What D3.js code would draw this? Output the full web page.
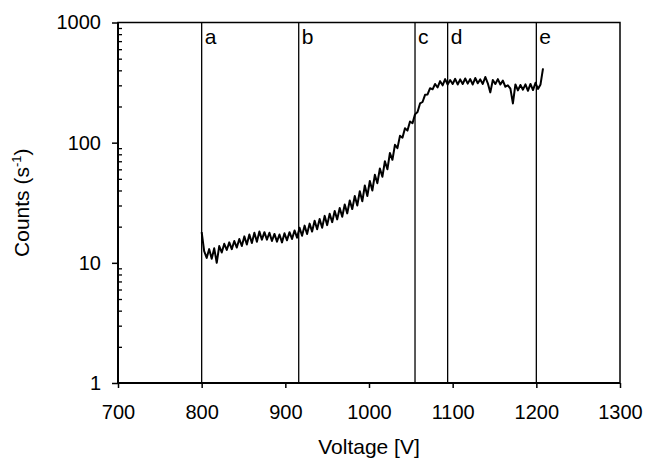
<!DOCTYPE html>
<html>
<head>
<meta charset="utf-8">
<script src="https://cdn.jsdelivr.net/npm/d3@7"></script>
<style>
  body { margin: 0; background: #fff; }
  text { font-family: "Liberation Sans", Arial, sans-serif; fill: #000; }
</style>
</head>
<body>
<div id="chart"></div>
<script>
"use strict";

// scan data (voltage in V, counts per second)
var voltages = [
     800,  803,  806,  809,  812,  815,  818,  821,  824,  827,
     830,  833,  836,  839,  842,  845,  848,  851,  854,  857,
     860,  863,  866,  869,  872,  875,  878,  881,  884,  887,
     890,  893,  896,  899,  902,  905,  908,  911,  914,  917,
     920,  923,  926,  929,  932,  935,  938,  941,  944,  947,
     950,  953,  956,  959,  962,  965,  968,  971,  974,  977,
     980,  983,  986,  989,  992,  995,  998, 1001, 1004, 1007,
    1010, 1013, 1016, 1019, 1022, 1025, 1028, 1031, 1034, 1037,
    1040, 1043, 1046, 1049, 1052, 1055, 1058, 1061, 1064, 1067,
    1070, 1073, 1076, 1079, 1082, 1085, 1088, 1091, 1094, 1097,
    1100, 1103, 1106, 1109, 1112, 1115, 1118, 1121, 1124, 1127,
    1130, 1133, 1136, 1139, 1142, 1145, 1148, 1151, 1154, 1157,
    1160, 1163, 1166, 1169, 1172, 1175, 1178, 1181, 1184, 1187,
    1190, 1193, 1196, 1199, 1202, 1205, 1208
];
var counts = [
    18, 12.5, 11, 13, 10.8, 13.2, 10.0, 13.8, 12.2, 14.4,
    12.8, 14.8, 13.0, 15.2, 13.4, 15.8, 13.8, 16.6, 14.2, 17.2,
    14.6, 17.8, 15.0, 18.2, 15.6, 18.0, 15.6, 17.8, 15.2, 17.4,
    15.0, 17.2, 14.8, 17.6, 15.4, 18.0, 15.8, 18.6, 16.2, 19.6,
    16.8, 20.4, 17.4, 21.2, 18.2, 22.4, 19.0, 23.2, 19.6, 24.6,
    20.6, 25.6, 21.8, 27.0, 23.0, 28.6, 24.2, 30.6, 25.8, 33.0,
    28.0, 36.0, 30.0, 39.5, 32.5, 44.0, 36.0, 48.0, 40.0, 54.0,
    46, 61, 52, 70, 60, 82, 72, 96, 90, 114,
    110, 132, 126, 150, 145, 172, 180, 212, 218, 250,
    252, 284, 278, 308, 288, 325, 300, 338, 305, 332,
    308, 340, 305, 336, 308, 342, 310, 338, 305, 345,
    312, 336, 308, 352, 312, 262, 332, 308, 338, 305,
    328, 292, 300, 282, 212, 305, 272, 302, 276, 306,
    270, 308, 274, 315, 280, 305, 415
];

// marker lines
var markerVolts = [800, 916, 1055, 1094, 1200];
var markerLabels = ["a", "b", "c", "d", "e"];

// ticks
var xTicks = [700, 800, 900, 1000, 1100, 1200, 1300];
var yTicks = [1, 10, 100, 1000];
var yMinorTicks = [2, 3, 4, 5, 6, 7, 8, 9, 20, 30, 40, 50, 60, 70, 80, 90,
                   200, 300, 400, 500, 600, 700, 800, 900];

var svg_dx = 646, svg_dy = 460;
var margin = {top: 22.5, right: 26, bottom: 77, left: 118};
var plot_right = svg_dx - margin.right,
    plot_bottom = svg_dy - margin.bottom;

var x = d3.scaleLinear().domain([700, 1300]).range([margin.left, plot_right]),
    y = d3.scaleLog().domain([1, 1000]).range([plot_bottom, margin.top]);

var svg = d3.select("#chart")
    .append("svg")
    .attr("width", svg_dx)
    .attr("height", svg_dy);

// frame (top / right)
svg.append("rect")
    .attr("x", margin.left)
    .attr("y", margin.top)
    .attr("width", plot_right - margin.left)
    .attr("height", plot_bottom - margin.top)
    .attr("fill", "none")
    .attr("stroke", "#000")
    .attr("stroke-width", 1.5);

// vertical marker lines
svg.append("g")
    .selectAll("line")
    .data(markerVolts)
    .enter()
    .append("line")
    .attr("x1", d => x(d))
    .attr("x2", d => x(d))
    .attr("y1", margin.top)
    .attr("y2", plot_bottom)
    .attr("stroke", "#000")
    .attr("stroke-width", 1.3);

svg.append("g")
    .selectAll("text")
    .data(markerVolts)
    .enter()
    .append("text")
    .attr("x", d => x(d) + 3)
    .attr("y", 44)
    .style("font-size", "21px")
    .text((d, i) => markerLabels[i]);

// curve
var line = d3.line()
    .x((d, i) => x(voltages[i]))
    .y(d => y(d));

svg.append("path")
    .datum(counts)
    .attr("d", line)
    .attr("fill", "none")
    .attr("stroke", "#000")
    .attr("stroke-width", 2)
    .attr("stroke-linejoin", "round");

// axes
var axis_x = d3.axisBottom(x)
    .tickValues(xTicks)
    .tickFormat(d3.format("d"))
    .tickSize(5)
    .tickPadding(17);

var axis_y = d3.axisLeft(y)
    .tickValues(yTicks)
    .tickFormat(d3.format("d"))
    .tickSize(6)
    .tickPadding(11);

var axis_y_minor = d3.axisRight(y)
    .tickValues(yMinorTicks)
    .tickFormat("")
    .tickSize(4);

var gx = svg.append("g")
    .attr("transform", "translate(0," + plot_bottom + ")")
    .call(axis_x);

var gy = svg.append("g")
    .attr("transform", "translate(" + margin.left + ",0)")
    .call(axis_y);

var gym = svg.append("g")
    .attr("transform", "translate(" + margin.left + ",0)")
    .call(axis_y_minor);
gym.select(".domain").remove();

[gx, gy].forEach(function(g) {
    g.select(".domain").remove();
    g.selectAll("text").style("font-size", "20px").attr("fill", "#000");
    g.selectAll("line").attr("stroke-width", 1.5);
});
gym.selectAll("line").attr("stroke-width", 1.3);

// axis lines drawn explicitly to keep them thick
svg.append("line")
    .attr("x1", margin.left).attr("x2", margin.left)
    .attr("y1", margin.top).attr("y2", plot_bottom)
    .attr("stroke", "#000").attr("stroke-width", 2);
svg.append("line")
    .attr("x1", margin.left).attr("x2", plot_right)
    .attr("y1", plot_bottom).attr("y2", plot_bottom)
    .attr("stroke", "#000").attr("stroke-width", 2);

// axis titles
svg.append("text")
    .attr("x", (margin.left + plot_right) / 2)
    .attr("y", 454)
    .attr("text-anchor", "middle")
    .style("font-size", "21px")
    .text("Voltage [V]");

var ylab = svg.append("text")
    .attr("transform", "translate(29," + ((margin.top + plot_bottom) / 2) + ") rotate(-90)")
    .attr("text-anchor", "middle")
    .style("font-size", "21px");
ylab.append("tspan").text("Counts (s");
ylab.append("tspan").attr("dy", -8).style("font-size", "13px").text("-1");
ylab.append("tspan").attr("dy", 8).text(")");
</script>
</body>
</html>
